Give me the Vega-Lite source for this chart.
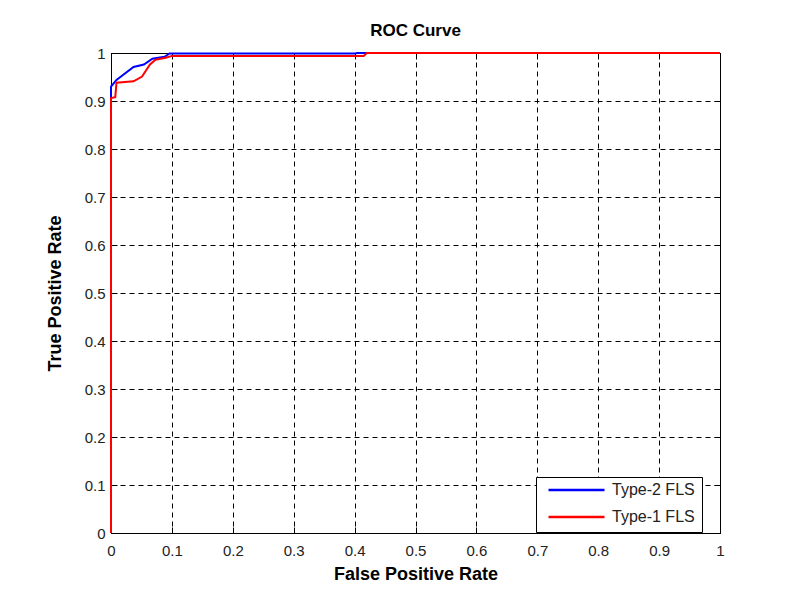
{
  "$schema": "https://vega.github.io/schema/vega-lite/v6.json",
  "width": 609,
  "height": 480,
  "autosize": {"type": "none"},
  "padding": {"left": 111, "top": 53, "right": 75, "bottom": 63},
  "background": "white",
  "title": {"text": "ROC Curve", "font": "Liberation Sans", "fontSize": 17, "fontWeight": "bold", "color": "black", "offset": 6},
  "config": {
    "view": {"stroke": "black", "strokeWidth": 1},
    "axis": {
      "labelFont": "Liberation Sans", "labelFontSize": 15, "labelColor": "#222", "labelFlush": false,
      "titleFont": "Liberation Sans", "titleFontSize": 18, "titleFontWeight": "bold", "titleColor": "black",
      "domainColor": "black", "tickColor": "black", "tickSize": -6,
      "gridColor": "black", "gridDash": [5, 4], "gridOpacity": 1, "gridWidth": 1
    }
  },
  "data": {"values": [
    {"series": "Type-2 FLS", "i": 0, "fpr": 0, "tpr": 0},
    {"series": "Type-2 FLS", "i": 1, "fpr": 0, "tpr": 0.93},
    {"series": "Type-2 FLS", "i": 2, "fpr": 0.009, "tpr": 0.944},
    {"series": "Type-2 FLS", "i": 3, "fpr": 0.037, "tpr": 0.971},
    {"series": "Type-2 FLS", "i": 4, "fpr": 0.054, "tpr": 0.976},
    {"series": "Type-2 FLS", "i": 5, "fpr": 0.068, "tpr": 0.988},
    {"series": "Type-2 FLS", "i": 6, "fpr": 0.088, "tpr": 0.992},
    {"series": "Type-2 FLS", "i": 7, "fpr": 0.096, "tpr": 0.999},
    {"series": "Type-2 FLS", "i": 8, "fpr": 0.4, "tpr": 0.999},
    {"series": "Type-2 FLS", "i": 9, "fpr": 0.405, "tpr": 1},
    {"series": "Type-2 FLS", "i": 10, "fpr": 1, "tpr": 1},
    {"series": "Type-1 FLS", "i": 0, "fpr": 0, "tpr": 0},
    {"series": "Type-1 FLS", "i": 1, "fpr": 0, "tpr": 0.906},
    {"series": "Type-1 FLS", "i": 2, "fpr": 0.007, "tpr": 0.908},
    {"series": "Type-1 FLS", "i": 3, "fpr": 0.009, "tpr": 0.938},
    {"series": "Type-1 FLS", "i": 4, "fpr": 0.037, "tpr": 0.941},
    {"series": "Type-1 FLS", "i": 5, "fpr": 0.051, "tpr": 0.951},
    {"series": "Type-1 FLS", "i": 6, "fpr": 0.064, "tpr": 0.976},
    {"series": "Type-1 FLS", "i": 7, "fpr": 0.073, "tpr": 0.986},
    {"series": "Type-1 FLS", "i": 8, "fpr": 0.09, "tpr": 0.99},
    {"series": "Type-1 FLS", "i": 9, "fpr": 0.1, "tpr": 0.994},
    {"series": "Type-1 FLS", "i": 10, "fpr": 0.415, "tpr": 0.994},
    {"series": "Type-1 FLS", "i": 11, "fpr": 0.42, "tpr": 1},
    {"series": "Type-1 FLS", "i": 12, "fpr": 1, "tpr": 1}
  ]},
  "resolve": {"axis": {"x": "independent", "y": "independent"}},
  "layer": [
    {
      "mark": {"type": "line", "strokeWidth": 2, "clip": false},
      "encoding": {
        "x": {"field": "fpr", "type": "quantitative", "scale": {"domain": [0, 1], "nice": false},
              "axis": {"title": "False Positive Rate", "values": [0,0.1,0.2,0.3,0.4,0.5,0.6,0.7,0.8,0.9,1], "format": "~g", "labelPadding": 16, "titlePadding": 7}},
        "y": {"field": "tpr", "type": "quantitative", "scale": {"domain": [0, 1], "nice": false},
              "axis": {"title": "True Positive Rate", "values": [0,0.1,0.2,0.3,0.4,0.5,0.6,0.7,0.8,0.9,1], "format": "~g", "labelPadding": 12, "titlePadding": 20}},
        "color": {"field": "series", "type": "nominal",
                  "scale": {"domain": ["Type-2 FLS", "Type-1 FLS"], "range": ["#0000ff", "#ff0000"]},
                  "legend": {"title": null, "orient": "none", "legendX": 425, "legendY": 424,
                             "symbolType": "stroke", "symbolSize": 3136, "symbolStrokeWidth": 2.5, "clipHeight": 12, "symbolOffset": 4,
                             "labelFont": "Liberation Sans", "labelFontSize": 16, "labelColor": "#222", "strokeColor": "black", "fillColor": "white",
                             "padding": 7, "rowPadding": 11, "labelOffset": 6}},
        "order": {"field": "i", "type": "quantitative"}
      }
    },
    {
      "mark": {"type": "line", "opacity": 0, "clip": false},
      "encoding": {
        "x": {"field": "fpr", "type": "quantitative",
              "axis": {"orient": "top", "title": null, "labels": false, "grid": false, "values": [0,0.1,0.2,0.3,0.4,0.5,0.6,0.7,0.8,0.9,1]}},
        "y": {"field": "tpr", "type": "quantitative",
              "axis": {"orient": "right", "title": null, "labels": false, "grid": false, "values": [0,0.1,0.2,0.3,0.4,0.5,0.6,0.7,0.8,0.9,1]}},
        "detail": {"field": "series"}
      }
    }
  ]
}
